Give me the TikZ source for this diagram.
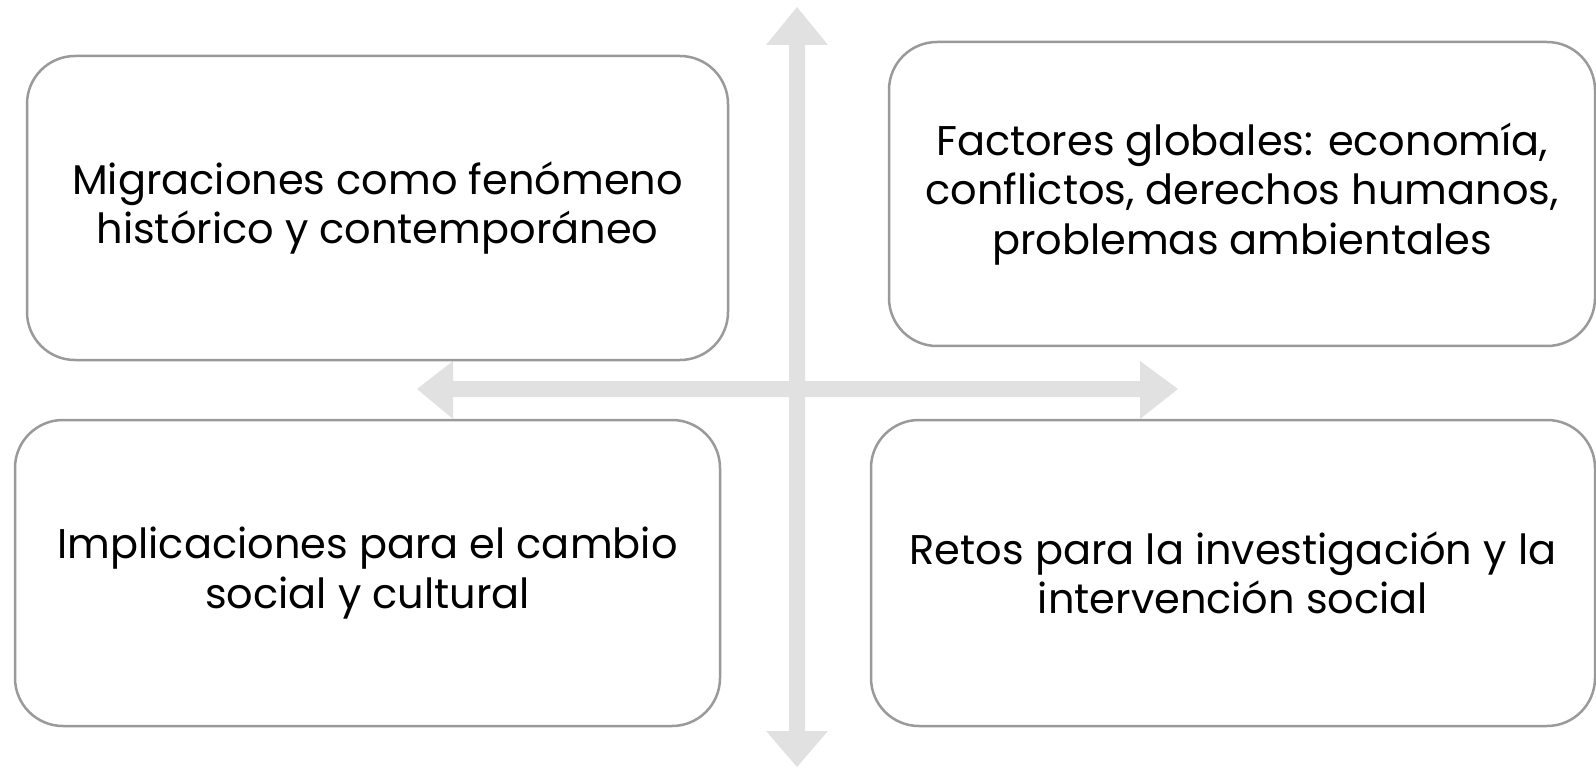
\documentclass[tikz,border=0pt]{standalone}
\usepackage{fontspec}
\setmainfont{Poppins}
\definecolor{boxgray}{HTML}{9A9A9A}
\definecolor{arrowgray}{HTML}{E1E1E1}
\begin{document}
\begin{tikzpicture}[x=1pt,y=-1pt,
  box/.style={draw=boxgray, line width=2.5pt, rounded corners=48pt, fill=white,
    align=center, inner sep=0pt, text=black, font=\fontsize{41.5}{49.5}\selectfont},
  arrowshape/.style={fill=arrowgray, draw=none}]
\useasboundingbox (0,0) rectangle (1596,767);
\coordinate (c) at (797,389);
% vertical double arrow
\fill[arrowshape] (789,45) -- (766,45) -- (797,7) -- (828,45) -- (805,45) -- (805,731)
  -- (828,731) -- (797,767) -- (766,731) -- (789,731) -- cycle;
% horizontal double arrow
\fill[arrowshape] (453,381) -- (453,361) -- (417,389) -- (453,419) -- (453,397) -- (1140,397)
  -- (1140,419) -- (1178,389) -- (1140,361) -- (1140,381) -- cycle;
\node[box, minimum width=701pt, minimum height=304pt] (tl) at (377.5,208)
  {Migraciones como fenómeno\\histórico y contemporáneo};
\node[box, minimum width=706pt, minimum height=304pt] (tr) at (1242,194)
  {Factores globales: economía,\\conflictos, derechos humanos,\\problemas ambientales};
\node[box, minimum width=705pt, minimum height=306pt] (bl) at (367.5,573)
  {Implicaciones para el cambio\\social y cultural};
\node[box, minimum width=724pt, minimum height=306pt] (br) at (1233,573)
  {Retos para la investigación y la\\intervención social};
\end{tikzpicture}
\end{document}
